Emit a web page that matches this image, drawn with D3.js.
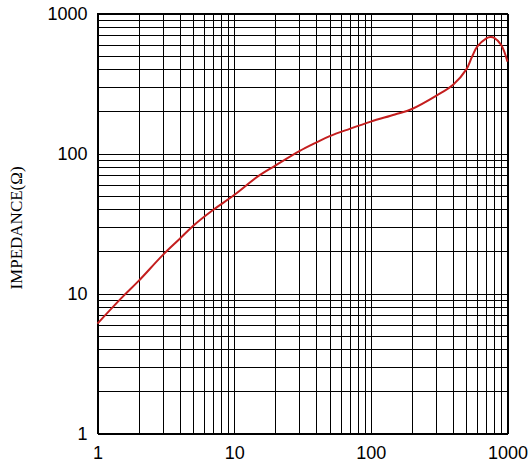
<!DOCTYPE html>
<html>
<head>
<meta charset="utf-8">
<script src="https://cdn.jsdelivr.net/npm/d3@7"></script>
<style>
  body { margin: 0; background: #fff; }
  svg { display: block; }
  .tick text { font-family: "Liberation Sans", Arial, sans-serif; font-size: 18px; fill: #000; }
</style>
</head>
<body>
<svg width="531" height="471"></svg>
<script>
// frequency (MHz) vs impedance (ohm)
var freq = [1, 1.5, 2, 3, 4, 5, 7, 10, 15, 20, 30, 40, 50, 70, 100, 150, 200, 300, 400, 500, 550, 600, 700, 750, 800, 900, 1000];
var impedance = [6.1, 9.3, 12.3, 18.8, 24.6, 30.4, 39.5, 50.5, 69, 82, 104, 120, 133, 150, 169, 190, 208, 258, 310, 399, 491, 579, 665, 680, 671, 596, 453];

var decades = [1, 10, 100, 1000];
var yTitle = "IMPEDANCE(\u03A9)";

var svg = d3.select("svg"),
    margin = {top: 13.5, right: 23.5, bottom: 37.5, left: 97.5},
    width = +svg.attr("width") - margin.left - margin.right,
    height = +svg.attr("height") - margin.top - margin.bottom;

var g = svg.append("g").attr("transform", "translate(" + margin.left + "," + margin.top + ")");

var x = d3.scaleLog().domain([1, 1000]).range([0, width]);
var y = d3.scaleLog().domain([1, 1000]).range([height, 0]);

// every 1..9 step in each decade gets a grid line
var gridVals = [];
decades.slice(0, 3).forEach(function(d) {
  for (var i = 1; i < 10; i++) gridVals.push(d * i);
});
gridVals.push(1000);

function label(d) { return decades.indexOf(d) >= 0 ? d : ""; }

g.append("g")
    .attr("transform", "translate(0," + height + ")")
    .call(d3.axisBottom(x).tickValues(gridVals).tickFormat(label)
      .tickSizeInner(-height).tickSizeOuter(0).tickPadding(13));

g.append("g")
    .call(d3.axisLeft(y).tickValues(gridVals).tickFormat(label)
      .tickSizeInner(-width).tickSizeOuter(0).tickPadding(10));

g.selectAll(".domain").remove();
g.selectAll(".tick line").attr("stroke", "#000").attr("shape-rendering", "crispEdges");

g.append("rect")
    .attr("width", width).attr("height", height)
    .attr("fill", "none").attr("stroke", "#000")
    .attr("shape-rendering", "crispEdges");

var line = d3.line()
    .x(function(d, i) { return x(freq[i]); })
    .y(function(d) { return y(d); })
    .curve(d3.curveCatmullRom.alpha(0.5));

g.append("path")
    .datum(impedance)
    .attr("fill", "none")
    .attr("stroke", "#c41e1e")
    .attr("stroke-width", 2)
    .attr("d", line);

svg.append("text")
    .attr("transform", "translate(16,228) rotate(-90)")
    .attr("text-anchor", "middle")
    .attr("dy", "0.35em")
    .style("font-family", "'Liberation Serif', 'Times New Roman', serif")
    .style("font-size", "17px")
    .text(yTitle);
</script>
</body>
</html>
